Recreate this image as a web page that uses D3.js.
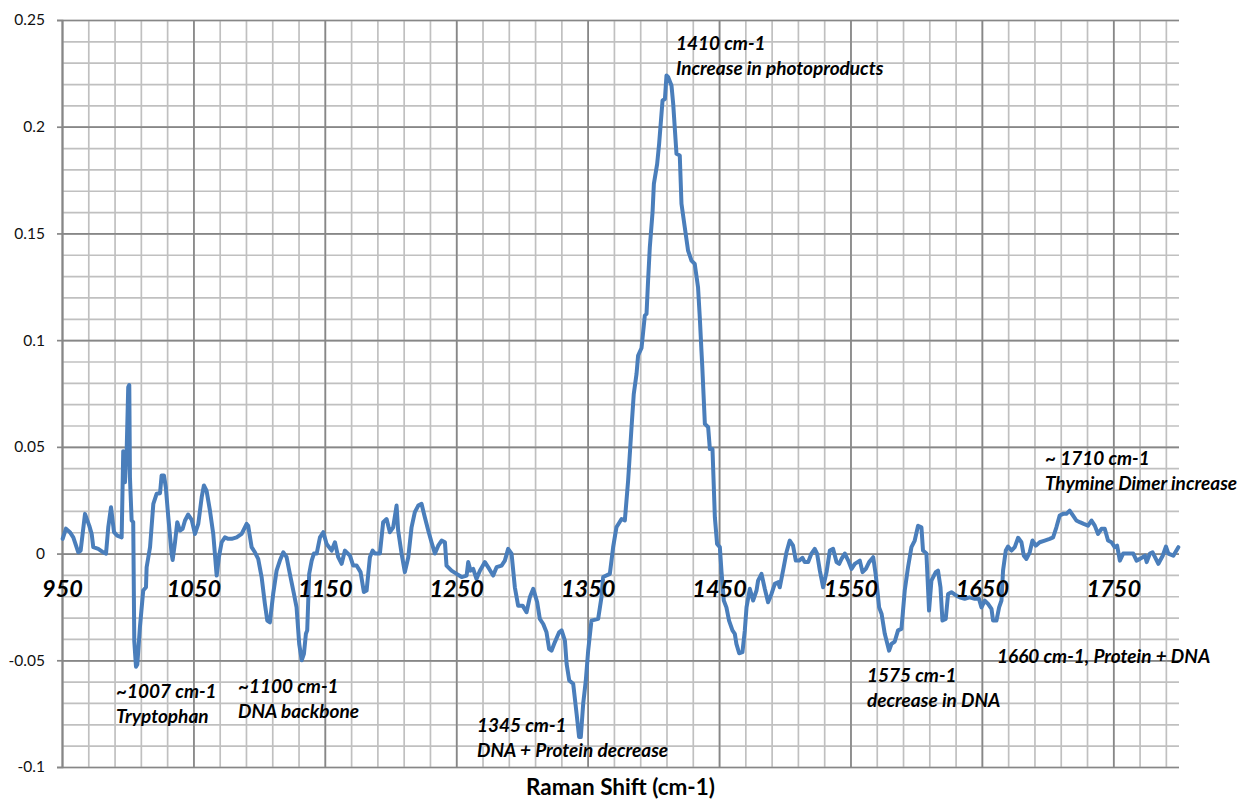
<!DOCTYPE html>
<html>
<head>
<meta charset="utf-8">
<script src="https://cdn.jsdelivr.net/npm/d3@7"></script>
<style>
  html, body { margin: 0; padding: 0; background: #ffffff; }
  svg { display: block; }
  text { font-family: Lato, "Open Sans", "DejaVu Sans", sans-serif; }
</style>
</head>
<body>
<svg id="chart" width="1237" height="799"></svg>
<script>
// Raman difference spectrum (cm-1 vs. intensity change)
const ramanShift = [
  950.5, 953, 956, 958.6, 962.4, 964.2, 967.5, 970.8, 972.6, 973.8, 977.6, 981.4, 983.5, 985.2, 987.3, 989.6,
  992, 995.4, 996.6, 997.9, 999.2, 1000.4, 1001.2, 1001.7, 1003, 1004.2, 1005, 1006.3, 1007.3, 1009.3, 1011.8,
  1013.9, 1014.4, 1017, 1019.5, 1022, 1024.6, 1025.8, 1027.6, 1029, 1030.9, 1033.4, 1034.2, 1036, 1037.7,
  1039.8, 1041.8, 1043.6, 1046, 1048.7, 1051.2, 1053.7, 1056.3, 1058, 1060, 1062.6, 1065.1, 1067.7, 1069.4,
  1071.5, 1074, 1076.5, 1079.1, 1082.9, 1086.7, 1090.5, 1091.7, 1094.3, 1096.8, 1099.3, 1101.9, 1104.4,
  1106.2, 1108.2, 1110.7, 1113.3, 1115.8, 1118.4, 1120.9, 1123.4, 1126.5, 1128.5, 1130.5, 1132.4, 1134.1,
  1135.6, 1136.6, 1138.1, 1140, 1141.7, 1143.8, 1146.3, 1148.8, 1151.4, 1155.2, 1157.7, 1160.2, 1162.8,
  1165.3, 1169.1, 1171.6, 1174.2, 1177.2, 1179.7, 1181.8, 1184.3, 1186.4, 1188.1, 1191.9, 1194.4, 1197,
  1199.5, 1202, 1204.6, 1205.8, 1208.4, 1210.9, 1213.5, 1216, 1218.5, 1221.1, 1223.6, 1226.1, 1228.7,
  1231.2, 1233.8, 1236.3, 1238.9, 1241.4, 1242.6, 1246.4, 1250.3, 1254.1, 1257.9, 1259.1, 1260.9, 1262.9,
  1265.4, 1268, 1271.8, 1275.1, 1278.1, 1280.7, 1284.5, 1287, 1289.5, 1292.1, 1294.6, 1297.1, 1300.5,
  1303.5, 1306, 1308.6, 1311.6, 1313.6, 1316.2, 1318.7, 1320.7, 1322.5, 1325, 1328.3, 1330.2, 1332.7,
  1334, 1336, 1339, 1341.6, 1343.5, 1344.8, 1346.6, 1348.6, 1350.4, 1352.9, 1358, 1360.5, 1361.8, 1366.9,
  1369.4, 1371.9, 1375.8, 1378.3, 1380.8, 1383.4, 1385.1, 1387.2, 1388.4, 1391, 1393.5, 1394.8, 1396,
  1397.3, 1399.4, 1400.4, 1402.9, 1404.4, 1407, 1408.8, 1410, 1411.3, 1413.8, 1415.1, 1417.6, 1420.1,
  1421.4, 1423.9, 1426.4, 1429, 1431.5, 1434, 1435.4, 1436.6, 1437.2, 1439.2, 1441.7, 1443, 1445, 1446.8,
  1448.5, 1450.6, 1451.8, 1453.6, 1455.6, 1457.6, 1460.2, 1462, 1463.2, 1465.3, 1467.8, 1469.6, 1470.9,
  1473.4, 1475.9, 1478.5, 1479.7, 1482.3, 1484.8, 1487.3, 1489.9, 1492.4, 1494.9, 1496.2, 1498.2, 1499.2,
  1501.3, 1503.8, 1506.3, 1508.4, 1510.9, 1513.5, 1515.2, 1517.8, 1520.3, 1522.8, 1524.6, 1526.7, 1529.2,
  1531.8, 1534.3, 1536.8, 1539.4, 1541.4, 1543.2, 1545.7, 1548.3, 1550.8, 1553.3, 1557.1, 1559.2, 1561.7,
  1564.2, 1567.3, 1569.3, 1571.8, 1573.7, 1576.1, 1579.4, 1581.2, 1583.7, 1586.2, 1588.8, 1591.3, 1593.8,
  1596.4, 1598.9, 1601.4, 1604, 1605.2, 1607.8, 1609.8, 1611.6, 1614.9, 1616.6, 1618.5, 1620, 1622.5,
  1624.3, 1626.8, 1630.6, 1633.1, 1636.9, 1640.7, 1644.6, 1647.8, 1649.7, 1652.2, 1654.7, 1657.3, 1658.5,
  1661.1, 1663.1, 1664.9, 1666.1, 1668.2, 1669.9, 1672.5, 1675, 1677.6, 1680.1, 1681.9, 1683.9, 1686.4,
  1688.5, 1691, 1694, 1697.8, 1701.6, 1704.2, 1706.7, 1709.2, 1711.8, 1714.3, 1716.8, 1719.4, 1721.9,
  1724.5, 1727.5, 1730.8, 1733.4, 1735.9, 1738.4, 1741, 1743.5, 1746, 1748.6, 1751.1, 1752.9, 1755,
  1757.5, 1761.3, 1765.2, 1767.7, 1770.3, 1774.1, 1775.4, 1777.9, 1779.9, 1782.4, 1784.3, 1787.6, 1790.1,
  1791.9, 1795.7, 1799.5
];

const intensityChange = [
  0.0069, 0.0117, 0.010, 0.0076, 0.0006, 0.0014, 0.0186, 0.013, 0.0092, 0.003, 0.0022, 0.0006, 0, 0.0123, 0.0217, 0.010,
  0.0084, 0.0076, 0.048, 0.0334, 0.048, 0.078, 0.079, 0.0357, 0.0155, 0.0147, -0.041, -0.053, -0.052, -0.0345, -0.0173,
  -0.0158, -0.0064, 0.003, 0.0233, 0.028, 0.0283, 0.0366, 0.0366, 0.031, 0.017, 0, -0.003, 0.0053, 0.0147,
  0.0108, 0.0116, 0.0155, 0.0183, 0.0158, 0.0092, 0.0139, 0.0264, 0.0319, 0.0295, 0.0201, 0.0092, -0.0103, -0.0017,
  0.0053, 0.0076, 0.0069, 0.0069, 0.0076, 0.0092, 0.0139, 0.013, 0.003, 0.0006, -0.0025, -0.011, -0.0236,
  -0.0314, -0.0322, -0.0189, -0.008, -0.0033, 0.0006, -0.0017, -0.0095, -0.0189, -0.0252, -0.0423, -0.050, -0.047,
  -0.0376, -0.036, -0.0095, -0.0033, 0, 0, 0.0076, 0.010, 0.0045, 0.0014, 0.0053, -0.0017, -0.0048,
  0.0014, -0.001, -0.0056, -0.0056, -0.0087, -0.018, -0.0173, -0.0017, 0.0014, 0, 0, 0.0147, 0.0162,
  0.010, 0.0123, 0.0225, 0.0108, 0, -0.0087, -0.0017, 0.0123, 0.0194, 0.0225, 0.0233, 0.017, 0.0108,
  0.0053, 0, 0.0037, 0.0061, 0.0053, -0.0056, -0.008, -0.0095, -0.011, -0.0103, -0.004, -0.008, -0.0072,
  -0.0119, -0.008, -0.004, -0.0072, -0.0103, -0.0064, -0.0056, -0.0033, 0.0022, 0, -0.0158, -0.0244, -0.0244,
  -0.0275, -0.0205, -0.0165, -0.0228, -0.0306, -0.033, -0.0369, -0.0447, -0.0455, -0.0416, -0.0369, -0.036, -0.0408,
  -0.0517, -0.0595, -0.061, -0.0751, -0.086, -0.086, -0.0704, -0.0595, -0.0455, -0.0314, -0.0306, -0.0205, -0.011, -0.0095,
  0.003, 0.0123, 0.0162, 0.0155, 0.0342, 0.0592, 0.0748, 0.0842, 0.0928, 0.0963, 0.1115, 0.1123, 0.128,
  0.1435, 0.16, 0.1732, 0.1826, 0.192, 0.2123, 0.213, 0.224, 0.2232, 0.2193, 0.2107, 0.1873, 0.1865,
  0.1639, 0.1529, 0.142, 0.1373, 0.1357, 0.1248, 0.11, 0.095, 0.088, 0.0608, 0.0592, 0.049, 0.049, 0.017,
  0.0045, 0.003, -0.008, -0.022, -0.0252, -0.0314, -0.036, -0.0376, -0.0423, -0.0467, -0.0462, -0.036, -0.0252,
  -0.0165, -0.022, -0.0173, -0.0127, -0.0095, -0.0165, -0.0228, -0.0189, -0.0142, -0.0134, -0.0158, -0.0095, -0.0064,
  0.0006, 0.0061, 0.0037, -0.0033, -0.0033, -0.002, -0.004, -0.004, 0, 0.0022, 0, -0.008, -0.0158,
  -0.0087, 0.0014, 0.0022, -0.004, -0.0048, -0.0025, 0, -0.0033, -0.0072, -0.0048, -0.0033, -0.0087, -0.0072,
  -0.004, -0.0017, -0.0103, -0.0252, -0.0283, -0.0376, -0.0455, -0.0423, -0.0412, -0.036, -0.0353, -0.0173, -0.0064,
  0.003, 0.0061, 0.013, 0.0123, 0.0014, 0, -0.0267, -0.0127, -0.0087, -0.008, -0.0158, -0.0314, -0.0306,
  -0.0189, -0.0181, -0.0197, -0.0205, -0.0212, -0.0205, -0.0212, -0.0212, -0.0252, -0.022, -0.0236, -0.0259, -0.0314,
  -0.0314, -0.0252, -0.022, -0.008, 0.0014, 0.0033, 0.0014, 0.003, 0.0074, 0.0053, -0.001, -0.0025, 0.0006,
  0.0061, 0.0037, 0.0053, 0.0061, 0.0069, 0.0076, 0.0123, 0.0178, 0.0186, 0.0186, 0.0201, 0.0178, 0.0155,
  0.0147, 0.0139, 0.0131, 0.0155, 0.0131, 0.0092, 0.0116, 0.0116, 0.0061, 0.0053, 0.003, 0.0037, -0.0033,
  0, 0, 0, -0.0033, -0.0025, -0.001, -0.004, 0, 0.0006, -0.0025, -0.0048, -0.001, 0.0033,
  0, -0.001, 0.003
];

// Axis ticks
const xTickLabels = [950, 1050, 1150, 1250, 1350, 1450, 1550, 1650, 1750];
const yTickLabels = [-0.1, -0.05, 0, 0.05, 0.1, 0.15, 0.2, 0.25];
const xAxisTitle = "Raman Shift (cm-1)";

// Band assignments written on the plot
const noteLines = [
  ["1410 cm-1", "Increase in photoproducts"],
  ["~1007 cm-1", "Tryptophan"],
  ["~1100 cm-1", "DNA backbone"],
  ["1345 cm-1", "DNA + Protein decrease"],
  ["1575 cm-1", "decrease in DNA"],
  ["1660 cm-1, Protein + DNA"],
  ["~ 1710 cm-1", "Thymine Dimer increase"]
];
// where each note sits, in data units (shift, intensity of first baseline)
const notePlace = [
  [1417.2, 0.236],
  [991.1, -0.0677],
  [1083.9, -0.0653],
  [1265.8, -0.0836],
  [1562.6, -0.0602],
  [1661.5, -0.0513],
  [1698.0, 0.0415]
];

const W = 1237, H = 799;
const margin = { top: 20, right: 58, bottom: 32, left: 62 };
const svg = d3.select("#chart");

const x = d3.scaleLinear().domain([950, 1800]).range([margin.left, W - margin.right]);
const y = d3.scaleLinear().domain([-0.1, 0.25]).range([H - margin.bottom, margin.top]);

const minorX = d3.range(950, 1800, 20);
const minorY = d3.range(-10, 26, 1).map(v => v / 100);

const grid = svg.append("g");
// minor grid
grid.append("g")
  .attr("transform", `translate(0,${y.range()[0]})`)
  .call(d3.axisBottom(x).tickValues(minorX).tickSize(-(y.range()[0] - y.range()[1])).tickFormat(""))
  .call(g => g.select(".domain").remove())
  .call(g => g.selectAll("line").attr("stroke", "#c0c0c0").attr("stroke-width", 1.7));
grid.append("g")
  .attr("transform", `translate(${x.range()[0]},0)`)
  .call(d3.axisLeft(y).tickValues(minorY).tickSize(-(x.range()[1] - x.range()[0])).tickFormat(""))
  .call(g => g.select(".domain").remove())
  .call(g => g.selectAll("line").attr("stroke", "#c0c0c0").attr("stroke-width", 1.7));
// major grid
grid.append("g")
  .attr("transform", `translate(0,${y.range()[0]})`)
  .call(d3.axisBottom(x).tickValues(xTickLabels).tickSize(-(y.range()[0] - y.range()[1])).tickFormat(""))
  .call(g => g.select(".domain").remove())
  .call(g => g.selectAll("line").attr("stroke", "#878787").attr("stroke-width", 1.7));
grid.append("g")
  .attr("transform", `translate(${x.range()[0]},0)`)
  .call(d3.axisLeft(y).tickValues(yTickLabels).tickSize(-(x.range()[1] - x.range()[0])).tickFormat(""))
  .call(g => g.select(".domain").remove())
  .call(g => g.selectAll("line").attr("stroke", "#878787").attr("stroke-width", 1.7));

// y axis with outside tick marks
const fmtY = v => (Math.abs(v) < 1e-9 ? "0" : String(+v.toFixed(2)));
svg.append("g")
  .attr("transform", `translate(${x.range()[0]},0)`)
  .call(d3.axisLeft(y).tickValues(yTickLabels).tickSize(5).tickPadding(12).tickFormat(fmtY))
  .call(g => g.select(".domain").attr("stroke", "#878787").attr("stroke-width", 1.7))
  .call(g => g.selectAll("line").attr("stroke", "#878787").attr("stroke-width", 1.7))
  .call(g => g.selectAll("text").attr("fill", "#111").style("font-size", "15.5px").style("font-family", "Lato, sans-serif"));

// spectrum
const pts = ramanShift.map((s, i) => [s, intensityChange[i]]);
svg.append("path")
  .datum(pts)
  .attr("fill", "none")
  .attr("stroke", "#4a7ebb")
  .attr("stroke-width", 4)
  .attr("stroke-linejoin", "round")
  .attr("stroke-linecap", "round")
  .attr("d", d3.line().x(d => x(d[0])).y(d => y(d[1])));

// x tick labels sit just under the zero line, over the curve
svg.append("g")
  .attr("transform", `translate(0,${y(0)})`)
  .call(d3.axisBottom(x).tickValues(xTickLabels).tickSize(0).tickPadding(43).tickFormat(d3.format("d")))
  .call(g => g.select(".domain").remove())
  .call(g => g.selectAll("text")
    .attr("fill", "#000")
    .style("font-size", "23.5px").style("font-weight", "700").style("font-style", "italic")
    .style("font-family", "Lato, sans-serif")
    .attr("dy", "0"));

// notes
const notes = svg.append("g");
noteLines.forEach((lines, i) => {
  const t = notes.append("text")
    .attr("x", x(notePlace[i][0]))
    .attr("y", y(notePlace[i][1]))
    .attr("fill", "#000")
    .style("font-size", "19px")
    .style("font-style", "italic")
    .style("font-weight", "700");
  lines.forEach((ln, j) => {
    t.append("tspan").attr("x", x(notePlace[i][0])).attr("dy", j === 0 ? 0 : 25).text(ln);
  });
});

// axis title
svg.append("text")
  .attr("x", (x.range()[0] + x.range()[1]) / 2)
  .attr("y", 795)
  .attr("text-anchor", "middle")
  .attr("fill", "#000")
  .style("font-size", "22.5px")
  .style("font-weight", "700")
  .text(xAxisTitle);
</script>
</body>
</html>
